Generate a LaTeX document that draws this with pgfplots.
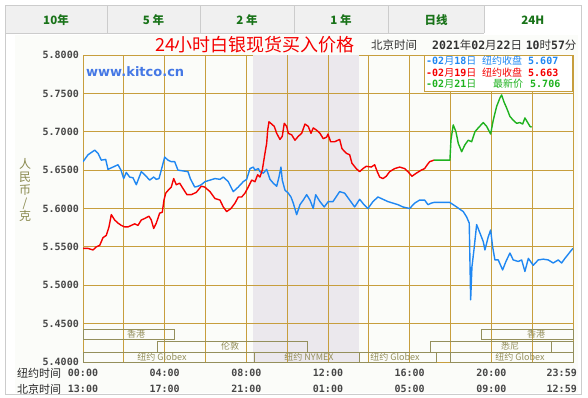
\documentclass[border=0pt]{standalone}
\usepackage{pgfplots}
\pgfplotsset{compat=1.18}
\usepackage{fontspec}
\setmainfont{DejaVu Sans}
\newfontfamily\cjk{Noto Sans CJK SC}
\newfontfamily\mono{DejaVu Sans Mono}
\newcommand\D[1]{{\mono\bfseries #1}}
\newcommand\C[1]{{\cjk #1}}
\definecolor{gridcol}{rgb}{0.78,0.62,0.24}
\definecolor{shadecol}{rgb}{0.92,0.91,0.93}
\definecolor{tintcol}{rgb}{0.985,0.99,0.975}
\definecolor{tabfill}{rgb}{0.94,0.94,0.94}
\definecolor{tabline}{rgb}{0.80,0.80,0.80}
\definecolor{tabtext}{rgb}{0.10,0.45,0.10}
\definecolor{olive}{rgb}{0.58,0.56,0.36}
\definecolor{ylabcol}{rgb}{0.54,0.54,0.31}
\definecolor{tickcol}{rgb}{0.28,0.28,0.28}
\definecolor{sblue}{rgb}{0.12,0.53,0.95}
\definecolor{sred}{rgb}{0.96,0.0,0.0}
\definecolor{sgreen}{rgb}{0.12,0.70,0.12}
\definecolor{kitco}{rgb}{0.27,0.47,0.90}

\pgfplotstableread{
h v
0 5.661
0.245 5.670
0.573 5.676
0.735 5.672
0.896 5.663
1.112 5.664
1.224 5.651
1.469 5.654
1.714 5.657
1.861 5.650
1.993 5.639
2.120 5.647
2.287 5.641
2.449 5.640
2.610 5.631
2.855 5.648
3.022 5.644
3.266 5.637
3.462 5.641
3.590 5.638
3.722 5.639
3.834 5.650
4.001 5.667
4.163 5.663
4.324 5.661
4.491 5.661
4.652 5.650
4.897 5.649
5.142 5.648
5.255 5.639
5.470 5.628
5.632 5.629
5.793 5.631
5.975 5.635
6.219 5.637
6.464 5.639
6.709 5.638
6.871 5.641
7.116 5.635
7.360 5.622
7.605 5.628
7.850 5.635
8.017 5.638
8.178 5.652
8.340 5.654
8.423 5.650
8.585 5.652
8.668 5.648
8.830 5.646
8.996 5.651
9.158 5.638
9.319 5.633
9.486 5.629
9.598 5.641
9.696 5.654
9.760 5.637
9.892 5.624
10.054 5.620
10.186 5.615
10.299 5.607
10.465 5.592
10.627 5.605
10.788 5.611
10.955 5.618
11.117 5.611
11.278 5.600
11.396 5.618
11.606 5.609
11.817 5.602
12.013 5.609
12.243 5.609
12.571 5.622
12.816 5.620
13.061 5.611
13.306 5.602
13.551 5.612
13.761 5.605
13.957 5.600
14.202 5.609
14.446 5.615
14.691 5.612
14.936 5.609
15.181 5.607
15.426 5.605
15.671 5.602
15.999 5.600
16.244 5.607
16.489 5.611
16.734 5.611
16.895 5.605
17.057 5.607
17.200 5.608
17.958 5.608
18.301 5.602
18.624 5.596
18.790 5.589
18.918 5.581
18.987 5.481
19.050 5.524
19.148 5.546
19.280 5.579
19.442 5.568
19.603 5.557
19.687 5.546
19.848 5.563
19.966 5.572
20.064 5.550
20.176 5.533
20.338 5.533
20.553 5.520
20.715 5.531
20.911 5.542
21.072 5.533
21.317 5.531
21.484 5.533
21.645 5.518
21.812 5.535
22.052 5.526
22.297 5.533
22.542 5.534
22.787 5.533
23.031 5.529
23.276 5.533
23.443 5.529
23.604 5.535
23.932 5.546
24.000 5.548
}\blueTab

\pgfplotstableread{
h v
0 5.548
0.245 5.548
0.490 5.546
0.651 5.550
0.818 5.552
0.979 5.562
1.141 5.565
1.273 5.576
1.386 5.592
1.552 5.585
1.714 5.581
1.876 5.578
2.042 5.576
2.204 5.576
2.365 5.578
2.532 5.580
2.693 5.578
2.855 5.585
3.022 5.587
3.232 5.590
3.345 5.585
3.462 5.574
3.590 5.581
3.756 5.594
3.883 5.595
3.967 5.611
4.050 5.620
4.212 5.625
4.324 5.628
4.442 5.639
4.569 5.631
4.736 5.633
4.897 5.626
5.093 5.618
5.304 5.618
5.548 5.621
5.793 5.629
5.960 5.628
6.219 5.622
6.464 5.613
6.709 5.611
6.871 5.602
7.037 5.596
7.248 5.600
7.444 5.607
7.605 5.615
7.772 5.615
7.933 5.620
8.095 5.628
8.261 5.637
8.423 5.635
8.555 5.644
8.668 5.641
8.781 5.650
8.913 5.672
8.996 5.685
9.045 5.702
9.109 5.713
9.241 5.710
9.368 5.707
9.486 5.698
9.647 5.690
9.760 5.694
9.858 5.711
9.976 5.707
10.054 5.698
10.220 5.696
10.382 5.689
10.543 5.694
10.710 5.698
10.872 5.710
11.033 5.707
11.166 5.698
11.278 5.705
11.445 5.702
11.606 5.698
11.768 5.691
11.934 5.693
11.998 5.697
12.130 5.687
12.326 5.687
12.571 5.690
12.684 5.678
12.894 5.672
13.061 5.670
13.173 5.659
13.384 5.652
13.551 5.648
13.712 5.652
13.874 5.655
14.118 5.654
14.285 5.657
14.412 5.648
14.530 5.641
14.691 5.639
14.853 5.642
15.019 5.648
15.264 5.652
15.509 5.654
15.754 5.652
15.916 5.648
16.112 5.642
16.322 5.646
16.567 5.650
16.734 5.652
16.861 5.657
16.978 5.661
17.189 5.663
}\redTab

\pgfplotstableread{
h v
17.189 5.663
17.972 5.663
18.021 5.689
18.134 5.709
18.266 5.700
18.379 5.685
18.546 5.674
18.707 5.683
18.869 5.689
19.035 5.687
19.197 5.700
19.358 5.705
19.603 5.712
19.770 5.707
19.966 5.697
20.093 5.715
20.259 5.733
20.421 5.744
20.504 5.748
20.617 5.739
20.749 5.731
20.911 5.720
21.072 5.715
21.239 5.711
21.400 5.712
21.533 5.710
21.645 5.718
21.758 5.713
21.891 5.707
21.974 5.706
}\greenTab

\begin{document}
\begin{tikzpicture}
\begin{scope}[x=1pt,y=1pt]
\path[use as bounding box] (0,0) rectangle (588,397);
% panel and tint
\fill[tintcol] (15,4) rectangle (578,362);
\draw[tabline, line width=0.8pt] (484,364) -- (5,364) -- (5,3) -- (581.6,3) -- (581.6,364);
% tabs
\draw[tabline, fill=tabfill, line width=0.8pt] (5,364) rectangle (107,391.4);
\draw[tabline, fill=tabfill, line width=0.8pt] (107,364) rectangle (200,391.4);
\draw[tabline, fill=tabfill, line width=0.8pt] (200,364) rectangle (294,391.4);
\draw[tabline, fill=tabfill, line width=0.8pt] (294,364) rectangle (388,391.4);
\draw[tabline, fill=tabfill, line width=0.8pt] (388,364) rectangle (484,391.4);
\fill[white] (484.4,363) rectangle (581.2,391);
\draw[tabline, line width=0.8pt] (484,364) -- (484,391.4) -- (581.6,391.4) -- (581.6,364);
\begin{scope}[every node/.style={font={\fontsize{11.5}{12}\selectfont\cjk\bfseries}, text=tabtext}]
\node at (56,377) {10年};
\node at (153.5,377) {5 年};
\node at (247,377) {2 年};
\node at (341,377) {1 年};
\node at (436,377) {日线};
\node at (532.8,377) {24H};
\end{scope}
\end{scope}

\begin{axis}[
  at={(83pt,35pt)}, anchor=south west,
  scale only axis, width=490pt, height=307pt,
  xmin=0, xmax=24, ymin=5.4, ymax=5.8,
  xtick={0,2,...,24}, xticklabel=\empty,
  ytick={5.40,5.45,5.50,5.55,5.60,5.65,5.70,5.75,5.80},
  yticklabels={5.4000,5.4500,5.5000,5.5500,5.6000,5.6500,5.7000,5.7500,5.8000},
  yticklabel style={font={\fontsize{10}{10}\selectfont\mono\bfseries}, text=tickcol, inner sep=0pt, xshift=-4pt},
  major tick length=0pt,
  axis line style={draw=gridcol, line width=1pt},
  no markers,
]
\fill[shadecol] (axis cs:8.333,5.4) rectangle (axis cs:13.5,5.8);
\pgfplotsinvokeforeach{2,4,6,8,10,12,14,16,18,20,22}{
  \draw[gridcol, line width=1pt] (axis cs:#1,5.4) -- (axis cs:#1,5.8);
}
\pgfplotsinvokeforeach{5.45,5.50,5.55,5.60,5.65,5.70,5.75}{
  \draw[gridcol, line width=1pt] (axis cs:0,#1) -- (axis cs:24,#1);
}
\addplot[sblue, line width=1.4pt, line join=round] table[x=h,y=v] {\blueTab};
\addplot[sred, line width=1.4pt, line join=round] table[x=h,y=v] {\redTab};
\addplot[sgreen, line width=1.4pt, line join=round] table[x=h,y=v] {\greenTab};
\end{axis}

\begin{scope}[x=1pt,y=1pt]
% market session boxes
\begin{scope}[draw=olive, line width=0.9pt]
\draw (83,58) rectangle (174,68);
\draw (481,58) rectangle (573,68);
\draw (157,45) rectangle (307,56);
\draw (430,45) rectangle (551,56);
\draw (551,45) rectangle (573,56);
\draw (83,35) rectangle (254,45);
\draw (254,35) rectangle (359,45);
\draw (359,35) rectangle (436,45);
\draw (450,35) rectangle (573,45);
\end{scope}
\begin{scope}[every node/.style={font={\fontsize{9}{9}\selectfont\cjk}, text=olive, inner sep=0pt}]
\node at (136,63) {香港};
\node at (536,63) {香港};
\node at (230,50.5) {伦敦};
\node at (510,50.5) {悉尼};
\node at (162,40) {纽约 Globex};
\node at (309,40) {纽约 NYMEX};
\node at (395,40) {纽约 Globex};
\node at (520,40) {纽约 Globex};
\end{scope}

% title and header
\node[font={\fontsize{18}{18}\selectfont\cjk}, text=sred] at (255,352) {24小时白银现货买入价格};
\node[anchor=west, font={\fontsize{11.5}{12}\selectfont\cjk}, text=black!80, inner sep=0pt] at (371,352) {北京时间};
\node[anchor=west, font={\fontsize{11.5}{12}\selectfont}, text=black!80, inner sep=0pt] at (432,352) {\D{2021}\C{年}\D{02}\C{月}\D{22}\C{日} \D{10}\C{时}\D{57}\C{分}};
\node[anchor=base west, font={\fontsize{13}{13}\selectfont\bfseries}, text=kitco, inner sep=0pt] at (86,320) {www.kitco.cn};

% legend box
\draw[gridcol, fill=white, line width=1pt] (424,305) rectangle (572.5,341.5);
\begin{scope}[every node/.style={anchor=west, inner sep=0pt, font={\fontsize{10}{10}\selectfont}}]
\node[text=sblue] at (426,336) {\D{-02}\C{月}\D{18}\C{日}};
\node[text=sblue] at (482,336) {\C{纽约收盘}};
\node[text=sblue] at (528,336) {\D{5.607}};
\node[text=sred] at (426,324.5) {\D{-02}\C{月}\D{19}\C{日}};
\node[text=sred] at (482,324.5) {\C{纽约收盘}};
\node[text=sred] at (528,324.5) {\D{5.663}};
\node[text=sgreen] at (426,313) {\D{-02}\C{月}\D{21}\C{日}};
\node[text=sgreen] at (493,313) {\C{最新价}};
\node[text=sgreen] at (530,313) {\D{5.706}};
\end{scope}

% y axis label
\node[align=center, font={\fontsize{12}{13}\selectfont\cjk}, text=ylabcol, inner sep=0pt] at (25,207.5) {人\\民\\币\\/\\克};

% x axis labels
\begin{scope}[every node/.style={font={\fontsize{10}{10}\selectfont\mono\bfseries}, text=tickcol, inner sep=0pt}]
\node at (83,24) {00:00};
\node at (164.7,24) {04:00};
\node at (246.3,24) {08:00};
\node at (328,24) {12:00};
\node at (409.7,24) {16:00};
\node at (491.3,24) {20:00};
\node[anchor=east] at (577,24) {23:59};
\node at (83,8) {13:00};
\node at (164.7,8) {17:00};
\node at (246.3,8) {21:00};
\node at (328,8) {01:00};
\node at (409.7,8) {05:00};
\node at (491.3,8) {09:00};
\node[anchor=east] at (577,8) {12:59};
\end{scope}
\node[anchor=west, inner sep=0pt, font={\fontsize{11}{11}\selectfont\cjk}, text=black!85] at (17,24) {纽约时间};
\node[anchor=west, inner sep=0pt, font={\fontsize{11}{11}\selectfont\cjk}, text=black!85] at (17,8) {北京时间};
\end{scope}
\end{tikzpicture}
\end{document}
